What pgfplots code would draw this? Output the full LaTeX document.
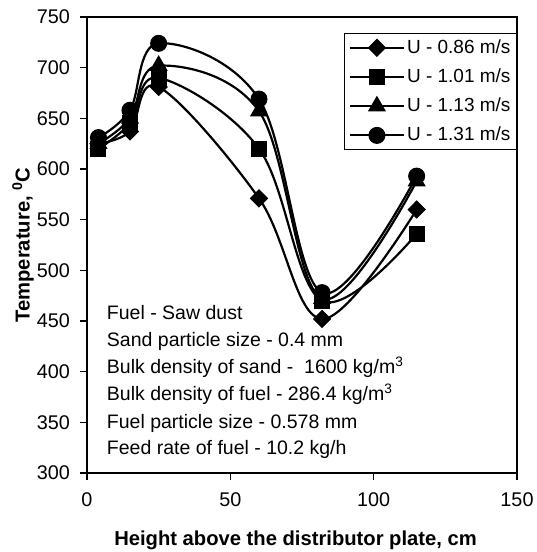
\documentclass[border=0pt]{standalone}
\usepackage{fontspec}
\setmainfont{Liberation Sans}
\usepackage{pgfplots}
\pgfplotsset{compat=1.18}
\begin{document}
\fontsize{19.5}{23}\selectfont
\begin{tikzpicture}
\path[use as bounding box] (-87pt,-79pt) rectangle (449pt,473pt);
\begin{axis}[
 at={(0pt,0pt)}, anchor=south west,
 scale only axis, width=430pt, height=456pt,
 xmin=0, xmax=150, ymin=300, ymax=750,
 xtick={0,50,100,150}, ytick={300,350,...,750},
 tick align=outside, xtick pos=left, ytick pos=left, major tick length=6.5pt,
 /pgf/number format/assume math mode=true,
 tick label style={font=\fontsize{19.8}{23}\selectfont},
 yticklabel style={xshift=-4pt},
 xticklabel style={yshift=-6pt},
 axis line style={line width=1.2pt},
 every tick/.style={line width=1.2pt, black},
 xlabel={Height above the distributor plate, cm},
 ylabel={Temperature, \textsuperscript{0}C},
 label style={font=\fontsize{20.2}{24}\selectfont\bfseries},
 xlabel style={at={(axis description cs:0.485,-0.147)}, anchor=center},
 ylabel style={at={(axis description cs:-0.149,0.5)}, anchor=center},
 legend style={at={(1,0.965)}, anchor=north east, draw=black, line width=1pt,
   font=\fontsize{19}{22}\selectfont, row sep=8.5pt, inner sep=4pt,
   cells={anchor=west}},
 legend image code/.code={\draw[mark repeat=2,mark phase=2] plot coordinates {(0pt,0pt) (27pt,0pt) (54pt,0pt)};},
 every axis plot/.append style={line width=2.2pt, black, smooth, tension=0.6},
]
\addplot[mark=diamond*, mark size=8.5pt, mark options={solid, fill=black, xscale=1.33, line width=1pt}]
 coordinates {(4,625) (15,637) (25,681) (60,571) (82,452) (115,560)};
\addlegendentry{U - 0.86 m/s}
\addplot[mark=square*, mark size=7.5pt, mark options={solid, fill=black, line width=1pt}]
 coordinates {(4,620) (15,645) (25,690) (60,620) (82,470) (115,536)};
\addlegendentry{U - 1.01 m/s}
\addplot[mark=triangle*, mark size=9.5pt, mark options={solid, fill=black, line width=1pt}]
 coordinates {(4,625) (15,650) (25,702) (60,657) (82,472) (115,588)};
\addlegendentry{U - 1.13 m/s}
\addplot[mark=*, mark size=8pt, mark options={solid, fill=black, line width=1pt}]
 coordinates {(4,631) (15,658) (25,724) (60,669) (82,478) (115,593)};
\addlegendentry{U - 1.31 m/s}
\draw[line width=2.4pt] (rel axis cs:0,0) -- (rel axis cs:1,0);
\node[anchor=base west, inner sep=0pt] at (axis cs:6.9,451.7) {Fuel - Saw dust};
\node[anchor=base west, inner sep=0pt] at (axis cs:6.9,424.8) {Sand particle size - 0.4 mm};
\node[anchor=base west, inner sep=0pt] at (axis cs:6.9,398.0) {Bulk density of sand -\ \ 1600 kg/m\textsuperscript{3}};
\node[anchor=base west, inner sep=0pt] at (axis cs:6.9,371.1) {Bulk density of fuel - 286.4 kg/m\textsuperscript{3}};
\node[anchor=base west, inner sep=0pt] at (axis cs:6.9,344.3) {Fuel particle size - 0.578 mm};
\node[anchor=base west, inner sep=0pt] at (axis cs:6.9,318.4) {Feed rate of fuel - 10.2 kg/h};
\end{axis}
\end{tikzpicture}
\end{document}
